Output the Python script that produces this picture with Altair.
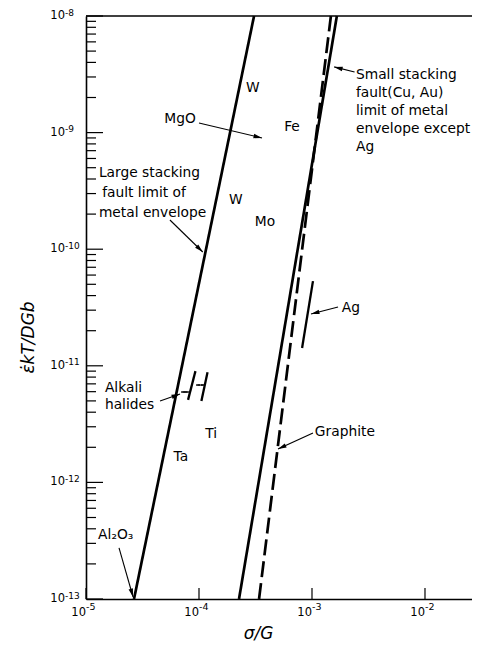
import math
import altair as alt
import pandas as pd

# ---------------- data ----------------
XMIN, XMAX = 1e-5, 10 ** -1.584
YMIN, YMAX = 1e-13, 1e-8

# main envelope lines
line_names = ["large_sf", "small_sf", "graphite"]
line_style = ["solid", "solid", "dashed"]
line_x_start = [2.66e-5, 2.26e-4, 3.4e-4]
line_y_start = [1e-13, 1e-13, 1e-13]
line_x_end = [3.07e-4, 1.66e-3, 1.47e-3]
line_y_end = [1e-8, 1e-8, 1e-8]

# short data segments (Ag, alkali halides)
seg_names = ["Ag", "alkali_1", "alkali_2"]
seg_x_start = [1.02e-3, 9.3e-5, 1.19e-4]
seg_y_start = [5.33e-11, 9.0e-12, 8.8e-12]
seg_x_end = [8.17e-4, 8.0e-5, 1.05e-4]
seg_y_end = [1.42e-11, 5.1e-12, 5.0e-12]

# small double arrows between alkali halide segments
dbl_x_start = [6.93e-5, 9.4e-5]
dbl_x_end = [8.17e-5, 1.13e-4]
dbl_y = [5.96e-12, 6.84e-12]

# annotation arrows (tail -> head)
arrow_names = ["small_sf", "MgO", "large_sf", "Ag", "Graphite", "Al2O3", "Alkali"]
arrow_tail_x = [2.38e-3, 1.0e-4, 5.53e-5, 1.70e-3, 1.02e-3, 1.96e-5, 4.52e-5]
arrow_tail_y = [3.31e-9, 1.21e-9, 1.78e-10, 3.19e-11, 2.65e-12, 2.74e-13, 4.99e-12]
arrow_head_x = [1.57e-3, 3.61e-4, 1.08e-4, 9.8e-4, 5.0e-4, 2.61e-5, 6.79e-5]
arrow_head_y = [3.66e-9, 9.0e-10, 9.46e-11, 2.78e-11, 1.93e-12, 1.04e-13, 5.73e-12]

# text labels
label_text = ["W", "W", "MgO", "Fe", "Mo", "Ti", "Ta", "Ag"]
label_x = [3.0e-4, 2.12e-4, 6.8e-5, 6.65e-4, 3.84e-4, 1.28e-4, 6.9e-5, 2.21e-3]
label_y = [2.4e-9, 2.64e-10, 1.31e-9, 1.12e-9, 1.71e-10, 2.6e-12, 1.65e-12, 3.13e-11]

note_text = ["Large stacking", "fault limit of", "metal envelope",
             "Small stacking", "fault(Cu, Au)", "limit of metal", "envelope except", "Ag",
             "Alkali", "halides", "Graphite", "Al\u2082O\u2083"]
note_x = [1.30e-5, 1.39e-5, 1.30e-5,
          2.45e-3, 2.45e-3, 2.45e-3, 2.45e-3, 2.45e-3,
          1.47e-5, 1.47e-5, 1.06e-3, 1.28e-5]
note_y = [4.51e-10, 3.03e-10, 2.04e-10,
          3.12e-9, 2.19e-9, 1.53e-9, 1.07e-9, 7.51e-10,
          6.46e-12, 4.61e-12, 2.70e-12, 3.54e-13]

x_tick_values = [1e-5, 1e-4, 1e-3, 1e-2]
x_tick_exps = ["-5", "-4", "-3", "-2"]
y_tick_values = [1e-13, 1e-12, 1e-11, 1e-10, 1e-9, 1e-8]
y_tick_exps = ["-13", "-12", "-11", "-10", "-9", "-8"]
y_minor_values = [k * 10.0 ** d for d in range(-13, -8) for k in range(2, 10)]

# ---------------- layout ----------------
W, H = 386, 583
FONT = "DejaVu Sans"
TXT = 13.8

xs = alt.Scale(type="log", domain=[XMIN, XMAX], nice=False)
ys = alt.Scale(type="log", domain=[YMIN, YMAX], nice=False)

lines_df = pd.DataFrame({"name": line_names, "style": line_style,
                         "x": line_x_start, "y": line_y_start,
                         "x2": line_x_end, "y2": line_y_end})
segs_df = pd.DataFrame({"name": seg_names, "x": seg_x_start, "y": seg_y_start,
                        "x2": seg_x_end, "y2": seg_y_end})
dbl_df = pd.DataFrame({"x": dbl_x_start, "x2": dbl_x_end, "y": dbl_y})
arrows_df = pd.DataFrame({"name": arrow_names, "x": arrow_tail_x, "y": arrow_tail_y,
                          "x2": arrow_head_x, "y2": arrow_head_y})

kx = W / (math.log10(XMAX) - math.log10(XMIN))
ky = H / (math.log10(YMAX) - math.log10(YMIN))


def head_angle(tx, ty, hx, hy):
    dx = kx * (math.log10(hx) - math.log10(tx))
    dy = -ky * (math.log10(hy) - math.log10(ty))
    return math.degrees(math.atan2(dx, -dy)) % 360


heads_df = pd.DataFrame({
    "x": arrow_head_x, "y": arrow_head_y,
    "angle": [head_angle(a, b, c, d) for a, b, c, d in
              zip(arrow_tail_x, arrow_tail_y, arrow_head_x, arrow_head_y)]})

dbl_heads = []
for x1, x2, yv in zip(dbl_x_start, dbl_x_end, dbl_y):
    dbl_heads.append({"x": x2, "y": yv, "angle": head_angle(x1, yv, x2, yv)})
    dbl_heads.append({"x": x1, "y": yv, "angle": head_angle(x2, yv, x1, yv)})
dbl_heads_df = pd.DataFrame(dbl_heads)

labels_df = pd.DataFrame({"text": label_text, "x": label_x, "y": label_y})
notes_df = pd.DataFrame({"text": note_text, "x": note_x, "y": note_y})

x_axis = alt.Axis(values=x_tick_values, labels=False,
                  ticks=False, grid=False, domain=True, domainColor="black", domainWidth=1.6,
                  title="\u03c3/G", titleFont=FONT, titleFontSize=17, titleFontStyle="italic",
                  titleFontWeight="normal", titleColor="black", titleX=172, titleY=39,
                  titleBaseline="alphabetic", titleAnchor="start", titleAlign="center")
y_axis = alt.Axis(values=y_tick_values, labels=False,
                  ticks=False, grid=False, domain=True, domainColor="black", domainWidth=1.6,
                  title="\u03b5\u0307kT/DGb", titleFont=FONT, titleFontSize=17,
                  titleFontStyle="italic", titleFontWeight="normal", titleColor="black",
                  titleAngle=270, titleX=-53, titleY=321, titleBaseline="alphabetic",
                  titleAlign="center", titleAnchor="start")


def X(field="x"):
    return alt.X(f"{field}:Q", scale=xs, axis=x_axis)


def Y(field="y"):
    return alt.Y(f"{field}:Q", scale=ys, axis=y_axis)


main = alt.Chart(lines_df).mark_rule(color="black", strokeWidth=2.7).encode(
    x=X(), y=Y(), x2="x2:Q", y2="y2:Q",
    strokeDash=alt.StrokeDash("style:N", scale=alt.Scale(domain=["solid", "dashed"],
                                                         range=[[1, 0], [16, 6]]),
                              legend=None),
)

segs = alt.Chart(segs_df).mark_rule(color="black", strokeWidth=2.3).encode(
    x=X(), y=Y(), x2="x2:Q", y2="y2:Q")

dbl = alt.Chart(dbl_df).mark_rule(color="black", strokeWidth=1.2).encode(
    x=X(), y=Y(), x2="x2:Q")

dbl_heads_layer = alt.Chart(dbl_heads_df).mark_point(
    shape="M0,0L0.9,3.4L-0.9,3.4Z", filled=True, color="black", opacity=1, size=5).encode(
    x=X(), y=Y(), angle=alt.Angle("angle:Q", scale=None))

arrows = alt.Chart(arrows_df).mark_rule(color="black", strokeWidth=1.1).encode(
    x=X(), y=Y(), x2="x2:Q", y2="y2:Q")

heads = alt.Chart(heads_df).mark_point(
    shape="M0,0L0.9,3.4L-0.9,3.4Z", filled=True, color="black", opacity=1, size=25).encode(
    x=X(), y=Y(), angle=alt.Angle("angle:Q", scale=None))

labels = alt.Chart(labels_df).mark_text(font=FONT, fontSize=TXT, color="black",
                                        align="center", baseline="middle").encode(
    x=X(), y=Y(), text="text:N")

notes = alt.Chart(notes_df).mark_text(font=FONT, fontSize=TXT, color="black",
                                      align="left", baseline="middle").encode(
    x=X(), y=Y(), text="text:N")

# inward tick marks, tick labels and top frame line
xt_df = pd.DataFrame({"x": x_tick_values, "exp": x_tick_exps})
x_ticks = alt.Chart(xt_df).mark_rule(color="black", strokeWidth=1.2).encode(
    x=X(), y=alt.value(H), y2=alt.value(H - 11))
x_lab_base = alt.Chart(xt_df).mark_text(font=FONT, fontSize=11.5, color="black",
                                        align="right", baseline="middle").encode(
    x=X(), y=alt.value(H + 14), text=alt.value("10"))
x_lab_exp = alt.Chart(xt_df).mark_text(font=FONT, fontSize=9.5, color="black",
                                       align="left", baseline="middle").encode(
    x=X(), y=alt.value(H + 8), text="exp:N")

yt_df = pd.DataFrame({"y": y_tick_values, "exp": y_tick_exps})
y_ticks = alt.Chart(yt_df).mark_rule(color="black", strokeWidth=1.2).encode(
    y=Y(), x=alt.value(0), x2=alt.value(17))
y_lab_base = alt.Chart(yt_df).mark_text(font=FONT, fontSize=11.5, color="black",
                                        align="right", baseline="middle").encode(
    y=Y(), x=alt.value(-21), text=alt.value("10"))
y_lab_exp = alt.Chart(yt_df).mark_text(font=FONT, fontSize=9, color="black",
                                       align="left", baseline="middle", dy=-3.5).encode(
    y=Y(), x=alt.value(-21), text="exp:N")

ym_df = pd.DataFrame({"y": y_minor_values})
y_minor = alt.Chart(ym_df).mark_rule(color="black", strokeWidth=1.2).encode(
    y=Y(), x=alt.value(0), x2=alt.value(10))

top_df = pd.DataFrame({"y": [YMAX]})
top_line = alt.Chart(top_df).mark_rule(color="black", strokeWidth=1.6).encode(
    y=Y(), x=alt.value(0), x2=alt.value(W))

chart = alt.layer(
    main, segs, dbl, dbl_heads_layer, arrows, heads, labels, notes,
    x_ticks, x_lab_base, x_lab_exp, y_ticks, y_lab_base, y_lab_exp, y_minor, top_line
).properties(
    width=W, height=H,
    autosize=alt.AutoSizeParams(type="none"),
    padding={"left": 78, "top": 8, "right": 0, "bottom": 44},
    background="white",
).configure_view(stroke=None)

chart.save("out.html", embed_options={"renderer": "svg", "actions": False})
